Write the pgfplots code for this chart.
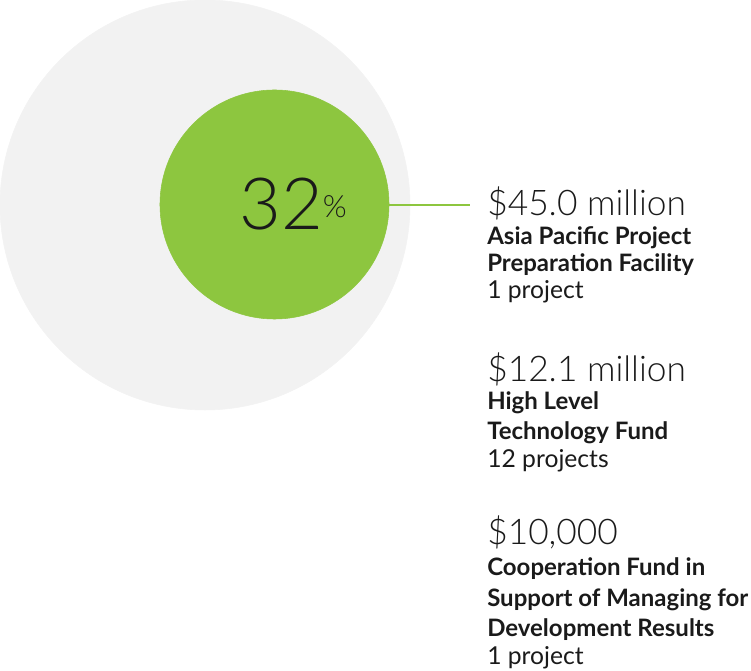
\documentclass[border=0pt]{standalone}
\usepackage{fontspec}
\setmainfont{Lato}
\newfontfamily\latolight{Lato Light}
\usepackage{pgfplots}
\pgfplotsset{compat=1.18}
\definecolor{ggrey}{HTML}{F2F2F2}
\definecolor{ggreen}{HTML}{8DC63F}
\definecolor{txt}{HTML}{1A1A1A}
\pgfplotsset{base/.style={
  anchor=origin, at={(0,0)},
  x=0.75pt, y=0.75pt,
  xmin=0, xmax=751, ymin=0, ymax=671,
  hide axis, clip=false}}
\begin{document}
\begin{tikzpicture}
\useasboundingbox (0,0) rectangle (563.25pt,503.25pt);
\begin{axis}[base]
% outer circle (100%)
\addplot[only marks, mark=*, color=ggrey, mark size=153.75pt] coordinates {(205,466)};
% inner circle (32%)
\addplot[only marks, mark=*, color=ggreen, mark size=85.9pt] coordinates {(274.5,466.5)};
\end{axis}
\begin{axis}[base]
% connector
\addplot[ggreen, line width=0.8pt] coordinates {(385,466) (470,466)};
\end{axis}
\begin{scope}[x=0.75pt, y=-0.75pt, yshift=503.25pt,
  every node/.style={anchor=base west, inner sep=0, text=txt}]
\node at (239,230) {\latolight\fontsize{54}{54}\selectfont 32\fontsize{23}{23}\selectfont\raisebox{9pt}{\%}};
\node at (487,216) {\latolight\fontsize{26.5}{26.5}\selectfont \$45.0 million};
\node at (487,245) {\bfseries\fontsize{18}{18}\selectfont Asia Pacific Project};
\node at (487,272) {\bfseries\fontsize{18}{18}\selectfont Preparation Facility};
\node at (487,299) {\fontsize{18.5}{18.5}\selectfont 1 project};
\node at (487,382) {\latolight\fontsize{26.5}{26.5}\selectfont \$12.1 million};
\node at (487,410) {\bfseries\fontsize{18}{18}\selectfont High Level};
\node at (487,440) {\bfseries\fontsize{18}{18}\selectfont Technology Fund};
\node at (487,468) {\fontsize{18.5}{18.5}\selectfont 12 projects};
\node at (487,545) {\latolight\fontsize{26.5}{26.5}\selectfont \$10,000};
\node at (487,576) {\bfseries\fontsize{18}{18}\selectfont Cooperation Fund in};
\node at (487,607) {\bfseries\fontsize{18}{18}\selectfont\resizebox{195.75pt}{!}{Support of Managing for}};
\node at (487,637) {\bfseries\fontsize{18}{18}\selectfont Development Results};
\node at (487,665) {\fontsize{18.5}{18.5}\selectfont 1 project};
\end{scope}
\end{tikzpicture}
\end{document}
